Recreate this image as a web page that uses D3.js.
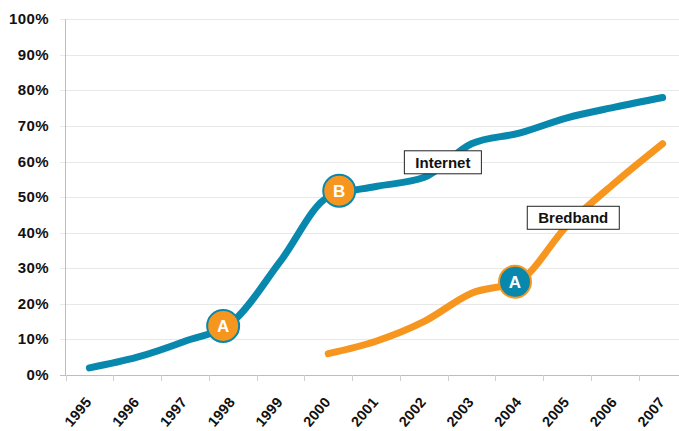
<!DOCTYPE html>
<html>
<head>
<meta charset="utf-8">
<script src="https://cdn.jsdelivr.net/npm/d3@7"></script>
<style>
  html, body { margin: 0; padding: 0; background: #fff; }
  svg { display: block; }
  text { font-family: "Liberation Sans", Arial, Helvetica, sans-serif; font-weight: bold; fill: #111; }
</style>
</head>
<body>
<svg id="chart" width="679" height="431"></svg>
<script>
// ---- data ----
const years = [1995, 1996, 1997, 1998, 1999, 2000, 2001, 2002, 2003, 2004, 2005, 2006, 2007];
const internetValues = [2, 5, 9.5, 15, 32, 50, 53, 55.5, 65, 68, 72.3, 75.3, 78];
const bredbandYears = [2000, 2001, 2002, 2003, 2004, 2005, 2006, 2007];
const bredbandValues = [6, 9.5, 15, 23, 26.5, 42, 54, 65];
const yTicks = [0, 10, 20, 30, 40, 50, 60, 70, 80, 90, 100];
const markerLetters = ["A", "B", "A"];
const markerSeries = ["internet", "internet", "bredband"];
const markerYears = [1997.8, 2000.23, 2003.91];
const markerValues = [13.8, 51.8, 26.2];
const seriesLabels = ["Internet", "Bredband"];
const labelYears = [2002.4, 2005.13];
const labelValues = [59.8, 44.2];

const BLUE = "#0888ad";
const ORANGE = "#f7961f";

const svg = d3.select("#chart");
const x = d3.scaleLinear().domain([1995, 2007]).range([89.4, 662.6]);
const y = d3.scaleLinear().domain([0, 100]).range([375, 19.3]);

// gridlines
svg.append("g").selectAll("line").data(yTicks).join("line")
  .attr("x1", 60).attr("x2", 679)
  .attr("y1", d => Math.round(y(d)) + 0.5).attr("y2", d => Math.round(y(d)) + 0.5)
  .attr("stroke", d => d === 0 ? "#bdbdbd" : "#e8e8e8").attr("stroke-width", 1);

// y axis line
svg.append("line").attr("x1", 65.5).attr("x2", 65.5).attr("y1", y(100)).attr("y2", y(0))
  .attr("stroke", "#bdbdbd");

// y labels
svg.append("g").selectAll("text").data(yTicks).join("text")
  .attr("x", 49).attr("y", d => y(d) + 5)
  .attr("text-anchor", "end").attr("font-size", 15)
  .attr("letter-spacing", 0.4)
  .text(d => d + "%");

// x ticks at band boundaries
const bounds = years.map(d => d - 0.5).concat([2007.5]);
svg.append("g").selectAll("line").data(bounds).join("line")
  .attr("x1", d => Math.round(x(d)) + 0.5).attr("x2", d => Math.round(x(d)) + 0.5)
  .attr("y1", y(0)).attr("y2", y(0) + 6)
  .attr("stroke", "#d0d0d0");

// x labels
svg.append("g").selectAll("text").data(years).join("text")
  .attr("transform", d => `translate(${x(d) + 3},402.5) rotate(-50)`)
  .attr("text-anchor", "end").attr("font-size", 14.5)
  .attr("letter-spacing", 0.2)
  .text(d => d);

// lines
const line = d3.line().curve(d3.curveMonotoneX);
const internetPts = years.map((d, i) => [x(d), y(internetValues[i])]);
const bredbandPts = bredbandYears.map((d, i) => [x(d), y(bredbandValues[i])]);

svg.append("path").attr("d", line(internetPts))
  .attr("fill", "none").attr("stroke", BLUE).attr("stroke-width", 7)
  .attr("stroke-linecap", "round").attr("stroke-linejoin", "round");
svg.append("path").attr("d", line(bredbandPts))
  .attr("fill", "none").attr("stroke", ORANGE).attr("stroke-width", 7)
  .attr("stroke-linecap", "round").attr("stroke-linejoin", "round");

// series labels
const labelG = svg.append("g").selectAll("g").data(seriesLabels).join("g")
  .attr("transform", (d, i) => `translate(${x(labelYears[i])},${y(labelValues[i])})`);
labelG.append("text").attr("text-anchor", "middle").attr("y", 5.5)
  .attr("font-size", 15).text(d => d)
  .each(function () {
    const b = this.getBBox();
    d3.select(this.parentNode).insert("rect", "text")
      .attr("x", b.x - 11).attr("y", -11.5)
      .attr("width", b.width + 22).attr("height", 23)
      .attr("fill", "#fff").attr("stroke", "#222").attr("stroke-width", 1);
  });

// markers
const mk = svg.append("g").selectAll("g").data(markerLetters).join("g")
  .attr("transform", (d, i) => `translate(${x(markerYears[i])},${y(markerValues[i])})`);
mk.append("circle").attr("r", 16)
  .attr("fill", (d, i) => markerSeries[i] === "internet" ? ORANGE : BLUE)
  .attr("stroke", (d, i) => markerSeries[i] === "internet" ? BLUE : ORANGE)
  .attr("stroke-width", 2);
mk.append("text").attr("text-anchor", "middle").attr("y", 6)
  .attr("font-size", 17).style("fill", "#fff").text(d => d);
</script>
</body>
</html>
